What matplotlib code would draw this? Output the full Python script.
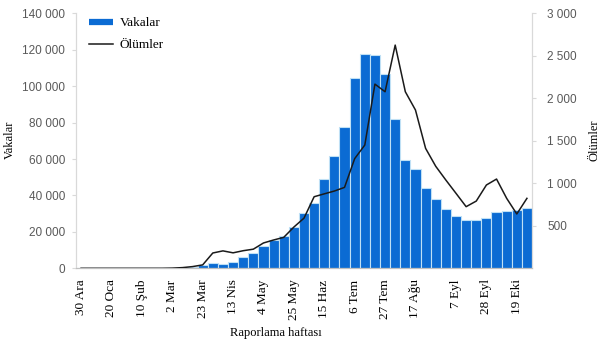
import numpy as np
import matplotlib
matplotlib.use("Agg")
import matplotlib.pyplot as plt
from matplotlib.lines import Line2D

OUTPUT_PATH = "out.png"

BAR_COLOR = "#0b6bd3"
BAR_EDGE = "#bfe0f5"
LINE_COLOR = "#1a1a1a"
TICK_COLOR = "#595959"
SPINE_COLOR = "#d9d9d9"

SERIF = "Liberation Serif"
SANS = "Liberation Sans"

# haftalik vaka sayilari (30 Ara 2019'dan itibaren)
cases = [
    0, 0, 0, 0, 0, 0, 0, 0, 0, 50,
    150, 500, 1700, 2900, 2400, 3300, 6000, 8600, 12400, 15500,
    17900, 22800, 30200, 35700, 49000, 61700, 77400, 104600, 117600, 117300,
    106500, 81800, 59700, 54700, 43900, 38200, 32600, 28700, 26500, 26500,
    27800, 30900, 31600, 32000, 33100,
]

# haftalik olum sayilari
deaths = [
    0, 0, 0, 0, 0, 0, 0, 0, 0, 2,
    8, 20, 40, 180, 205, 182, 207, 225, 298, 333,
    364, 485, 590, 842, 876, 909, 952, 1290, 1450, 2167,
    2077, 2626, 2077, 1862, 1411, 1200, 1038, 882, 725, 791,
    980, 1050, 823, 639, 823,
]

tick_index = [0, 3, 6, 9, 12, 15, 18, 21, 24, 27, 30, 33, 37, 40, 43]
tick_labels = [
    "30 Ara", "20 Oca", "10 Şub", "2 Mar", "23 Mar", "13 Nis", "4 May",
    "25 May", "15 Haz", "6 Tem", "27 Tem", "17 Ağu", "7 Eyl", "28 Eyl", "19 Eki",
]

left_ticks = list(range(0, 140001, 20000))
right_ticks = list(range(500, 3001, 500))


def fmt(v):
    return f"{v:,}".replace(",", " ")


x = np.arange(len(cases))

fig = plt.figure(figsize=(6.05, 3.44), dpi=100)
ax = fig.add_axes([76 / 605, 1 - 268.3 / 344, 456 / 605, 255 / 344])
ax2 = ax.twinx()

# vaka sutunlari
ax.bar(x, cases, width=1.0, color=BAR_COLOR, edgecolor=BAR_EDGE, linewidth=0.8, zorder=2)
ax.set_xlim(-0.5, len(cases) - 0.5)
ax.set_ylim(0, 140000)

# olum cizgisi
ax2.plot(x, deaths, color=LINE_COLOR, linewidth=1.1, zorder=3)
ax2.set_ylim(0, 3000)

ax.set_yticks(left_ticks)
ax.set_yticklabels([fmt(v) for v in left_ticks], fontfamily=SANS, fontsize=8.5, color=TICK_COLOR)
ax2.set_yticks(right_ticks)
ax2.set_yticklabels([fmt(v) for v in right_ticks], fontfamily=SANS, fontsize=8.5, color=TICK_COLOR)

ax.set_xticks(tick_index)
ax.set_xticklabels(tick_labels, rotation=90, fontfamily=SERIF, fontsize=9.5)
ax.tick_params(axis="x", length=0, pad=8)
ax.tick_params(axis="y", length=3, color=SPINE_COLOR, pad=5)
ax2.tick_params(axis="y", length=3, color=SPINE_COLOR, pad=8)

for a in (ax, ax2):
    a.spines["top"].set_visible(False)
    a.spines["left"].set_color(SPINE_COLOR)
    a.spines["right"].set_color(SPINE_COLOR)
    a.spines["bottom"].set_color("#bfbfbf")

# eksen basliklari
fig.text(10 / 605, 1 - 140 / 344, "Vakalar", rotation=90, ha="center", va="center",
         fontfamily=SERIF, fontsize=9)
fig.text(594 / 605, 1 - 140 / 344, "Ölümler", rotation=90, ha="center", va="center",
         fontfamily=SERIF, fontsize=9)
fig.text(276 / 605, 1 - 333 / 344, "Raporlama haftası", ha="center", va="center",
         fontfamily=SERIF, fontsize=9)

# lejant
handles = [
    Line2D([0], [0], color=BAR_COLOR, linewidth=4.5, solid_capstyle="butt"),
    Line2D([0], [0], color=LINE_COLOR, linewidth=1.1),
]
fig.legend(handles, ["Vakalar", "Ölümler"], loc="upper left",
           bbox_to_anchor=(89 / 605, 1 - 17 / 344), frameon=False,
           prop={"family": SERIF, "size": 9.5}, handlelength=1.8,
           handletextpad=0.5, labelspacing=0.75, borderpad=0, borderaxespad=0)

fig.savefig(OUTPUT_PATH, dpi=100)
plt.close(fig)
